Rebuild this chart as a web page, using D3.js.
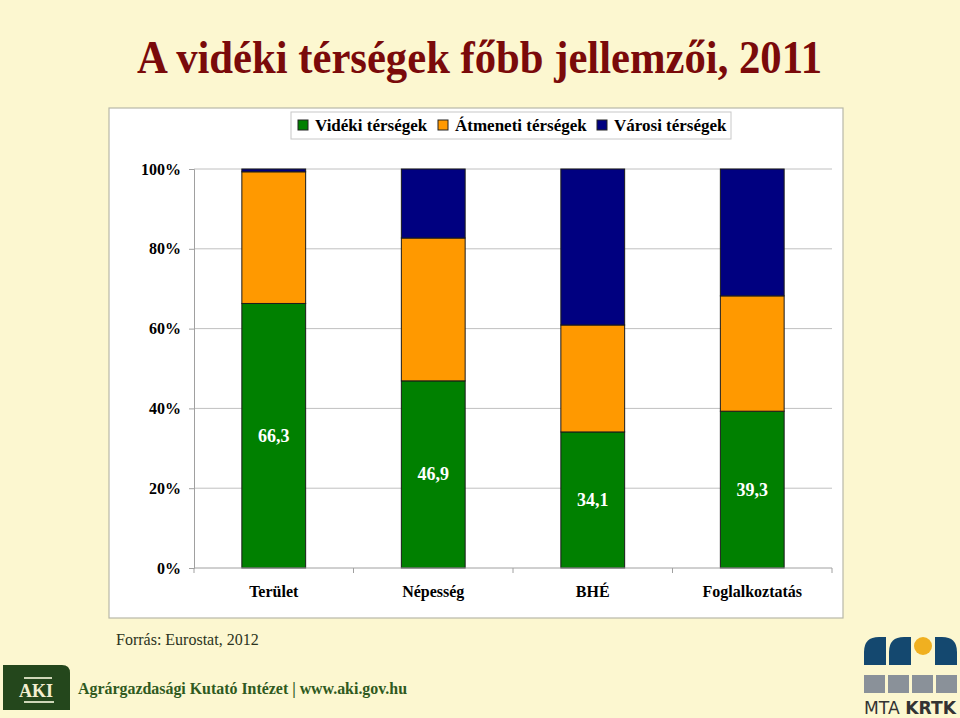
<!DOCTYPE html>
<html>
<head>
<meta charset="utf-8">
<script src="https://cdn.jsdelivr.net/npm/d3@7"></script>
<style>
  html, body { margin: 0; padding: 0; background: #FCF7D0; }
  svg { display: block; }
</style>
</head>
<body>
<svg id="chart" width="960" height="718"></svg>
<script>
// ---- data ----
const title = "A vidéki térségek főbb jellemzői, 2011";
const categories = ["Terület", "Népesség", "BHÉ", "Foglalkoztatás"];
const seriesNames = ["Vidéki térségek", "Átmeneti térségek", "Városi térségek"];
const seriesColors = ["#008000", "#FF9900", "#000080"];
const videki = [66.3, 46.9, 34.1, 39.3];
const atmeneti = [33.0, 35.8, 26.8, 28.9];
const varosi = [0.7, 17.3, 39.1, 31.8];
const labelValues = ["66,3", "46,9", "34,1", "39,3"];
const yTicks = [0, 20, 40, 60, 80, 100];
const source = "Forrás: Eurostat, 2012";

const serif = "'Liberation Serif', 'Times New Roman', serif";
const svg = d3.select("#chart");

// background
svg.append("rect").attr("width", 960).attr("height", 718).attr("fill", "#FCF7D0");

// title
svg.append("text")
  .attr("x", 137).attr("y", 73)
  .attr("textLength", 685).attr("lengthAdjust", "spacingAndGlyphs")
  .attr("font-family", serif).attr("font-weight", "bold").attr("font-size", 46)
  .attr("fill", "#7A0A0A")
  .text(title);

// chart frame
svg.append("rect")
  .attr("x", 109).attr("y", 108).attr("width", 734).attr("height", 510)
  .attr("fill", "#ffffff").attr("stroke", "#b8b8a8").attr("stroke-width", 1.2);

// scales
const x = d3.scaleBand().domain(categories).range([194, 832]).paddingInner(0.6).paddingOuter(0.3);
const y = d3.scaleLinear().domain([0, 100]).range([568, 169]);

// gridlines
svg.append("g").selectAll("line").data(yTicks.filter(d => d > 0)).join("line")
  .attr("x1", 194).attr("x2", 832)
  .attr("y1", d => y(d)).attr("y2", d => y(d))
  .attr("stroke", "#c0c0c0").attr("stroke-width", 1);

// y axis
const yAxis = svg.append("g").attr("transform", "translate(194,0)")
  .call(d3.axisLeft(y).tickValues(yTicks).tickFormat(d => d + "%").tickSize(5).tickPadding(8));
yAxis.select(".domain").attr("stroke", "#a0a0a0");
yAxis.selectAll(".tick line").attr("stroke", "#a0a0a0");
yAxis.selectAll(".tick text")
  .attr("font-family", serif).attr("font-weight", "bold").attr("font-size", 16).attr("fill", "#000");

// stacked data
const rows = categories.map((c, i) => ({ cat: c, s0: videki[i], s1: atmeneti[i], s2: varosi[i] }));
const stack = d3.stack().keys(["s0", "s1", "s2"])(rows);

svg.append("g").selectAll("g").data(stack).join("g")
  .attr("fill", (d, i) => seriesColors[i])
  .selectAll("rect").data(d => d).join("rect")
  .attr("x", d => x(d.data.cat))
  .attr("width", x.bandwidth())
  .attr("y", d => y(d[1]))
  .attr("height", d => y(d[0]) - y(d[1]))
  .attr("stroke", "#1a1a1a").attr("stroke-width", 1);

// x axis
const xAxisG = svg.append("g").attr("transform", "translate(0,568)");
xAxisG.append("line").attr("x1", 194).attr("x2", 832).attr("y1", 0).attr("y2", 0).attr("stroke", "#a0a0a0");
const bounds = d3.range(categories.length + 1).map(i => 194 + i * x.step());
xAxisG.selectAll("line.tk").data(bounds).join("line").attr("class", "tk")
  .attr("x1", d => d).attr("x2", d => d).attr("y1", 0).attr("y2", 5).attr("stroke", "#a0a0a0");
xAxisG.selectAll("text").data(categories).join("text")
  .attr("x", d => x(d) + x.bandwidth() / 2).attr("y", 29)
  .attr("text-anchor", "middle")
  .attr("font-family", serif).attr("font-weight", "bold").attr("font-size", 16).attr("fill", "#000")
  .text(d => d);

// value labels (middle of green segment)
svg.append("g").selectAll("text").data(rows).join("text")
  .attr("x", d => x(d.cat) + x.bandwidth() / 2)
  .attr("y", d => y(d.s0 / 2) + 6)
  .attr("text-anchor", "middle")
  .attr("font-family", serif).attr("font-weight", "bold").attr("font-size", 18).attr("fill", "#ffffff")
  .text((d, i) => labelValues[i]);

// legend
const legend = svg.append("g");
legend.append("rect").attr("x", 291).attr("y", 112).attr("width", 440).attr("height", 27)
  .attr("fill", "#fff").attr("stroke", "#c8c8c8");
const legX = [298, 438, 597];
seriesNames.forEach((n, i) => {
  legend.append("rect").attr("x", legX[i]).attr("y", 120).attr("width", 10).attr("height", 10)
    .attr("fill", seriesColors[i]).attr("stroke", "#222").attr("stroke-width", 1);
  legend.append("text").attr("x", legX[i] + 17).attr("y", 131)
    .attr("font-family", serif).attr("font-weight", "bold").attr("font-size", 17).attr("fill", "#000")
    .text(n);
});

// source
svg.append("text").attr("x", 116).attr("y", 645)
  .attr("font-family", serif).attr("font-size", 16).attr("fill", "#2b3320")
  .text(source);

// AKI logo
const aki = svg.append("g");
aki.append("path")
  .attr("d", "M3,665 H62 Q70,665 70,673 V710 H3 Z")
  .attr("fill", "#24471c");
aki.append("text").attr("x", 36).attr("y", 697).attr("text-anchor", "middle")
  .attr("font-family", serif).attr("font-weight", "bold").attr("font-size", 18).attr("fill", "#F3EED0")
  .text("AKI");
aki.append("line").attr("x1", 24).attr("x2", 52).attr("y1", 678).attr("y2", 678).attr("stroke", "#cfd6b8").attr("stroke-width", 2);
aki.append("line").attr("x1", 24).attr("x2", 54).attr("y1", 702).attr("y2", 702).attr("stroke", "#cfd6b8").attr("stroke-width", 2);
aki.append("text").attr("x", 78).attr("y", 694)
  .attr("font-family", serif).attr("font-weight", "bold").attr("font-size", 17).attr("fill", "#2f5a1e")
  .attr("textLength", 329).attr("lengthAdjust", "spacingAndGlyphs")
  .text("Agrárgazdasági Kutató Intézet | www.aki.gov.hu");

// MTA KRTK logo
const mta = svg.append("g");
const blue = "#14486f";
mta.append("path").attr("d", "M864,665 V652 Q864,637 879,637 H886 V665 Z").attr("fill", blue);
mta.append("path").attr("d", "M889,665 V652 Q889,637 904,637 H911 V665 Z").attr("fill", blue);
mta.append("circle").attr("cx", 923).attr("cy", 646).attr("r", 9).attr("fill", "#F0B020");
mta.append("path").attr("d", "M935,665 V637 H942 Q957,637 957,652 V665 Z").attr("fill", blue);
[864, 888, 912, 936].forEach(px => {
  mta.append("rect").attr("x", px).attr("y", 675).attr("width", 21).attr("height", 18).attr("fill", "#8a9199");
});
mta.append("text").attr("x", 864).attr("y", 714)
  .attr("font-family", "'DejaVu Sans', sans-serif").attr("font-size", 18).attr("fill", "#333")
  .attr("textLength", 92).attr("lengthAdjust", "spacingAndGlyphs")
  .html("MTA <tspan font-weight='bold'>KRTK</tspan>");
</script>
</body>
</html>
